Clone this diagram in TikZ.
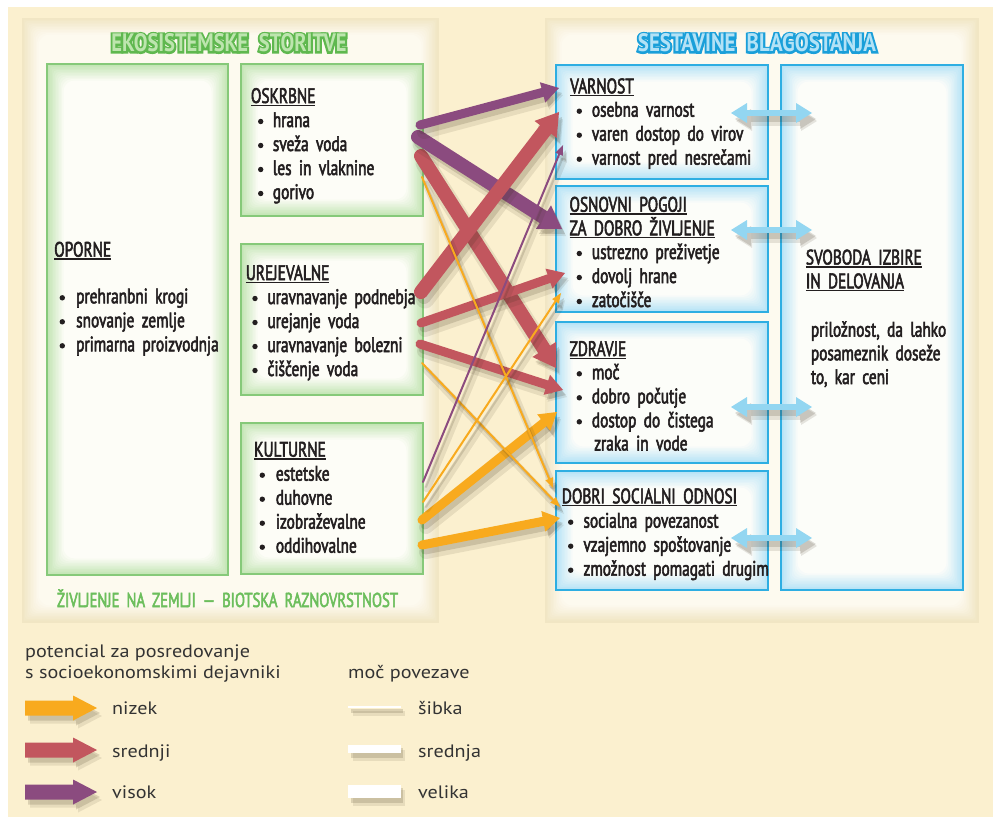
\documentclass[tikz,border=0pt]{standalone}
\usepackage{graphicx}
\usepackage{fontspec}
\setmainfont{PT Sans}
\newfontfamily\cond[FakeStretch=0.73,WordSpace=1.8,FakeBold=2.5]{PT Sans}
\newfontfamily\titlef[FakeStretch=0.75]{PT Sans Bold}
\newfontfamily\titleo[FakeStretch=0.75,FakeBold=15]{PT Sans Bold}
\newfontfamily\legf[FakeStretch=1.12]{PT Sans}
\usetikzlibrary{arrows.meta}
\definecolor{bgcream}{HTML}{FBF0CF}
\definecolor{panelin}{HTML}{FDFAF0}
\definecolor{paneledge}{HTML}{F1E6C4}
\definecolor{gborder}{HTML}{86C979}
\definecolor{gglow}{HTML}{C3E5B4}
\definecolor{ginner}{HTML}{FEFDF8}
\definecolor{bborder}{HTML}{2EAEE2}
\definecolor{bglow}{HTML}{B6E3F6}
\definecolor{binner}{HTML}{FDFDF9}
\definecolor{txt}{HTML}{231F20}
\definecolor{aorange}{HTML}{F8AA1E}
\definecolor{ared}{HTML}{C2565E}
\definecolor{apurple}{HTML}{8B4B7F}
\definecolor{ablue}{HTML}{93D6F1}
\definecolor{tgreenfill}{HTML}{BDE5AE}
\definecolor{tgreenline}{HTML}{5FB84F}
\definecolor{tbluefill}{HTML}{B3E2F6}
\definecolor{tblueline}{HTML}{1A9FD9}
\definecolor{footgreen}{HTML}{6CBE5C}
\definecolor{legtxt}{HTML}{333333}
\definecolor{shadowc}{HTML}{3A2E1A}

\newcommand\ul[1]{\setbox0\hbox{#1}\rlap{\rule[-3pt]{\wd0}{1.4pt}}\box0}

\newcommand\glowbox[8]{% x1 y1 x2 y2 glow inner border borderwidth
  \foreach \k in {0,...,11}{%
    \pgfmathtruncatemacro\pc{100-\k*9}%
    \pgfmathsetmacro\rc{\k*1.0}%
    \fill[#5!\pc!#6, rounded corners=\rc pt] ({#1+1.5*\k},{#2+1.5*\k}) rectangle ({#3-1.5*\k},{#4-1.5*\k});
  }%
  \draw[#7, line width=#8pt] (#1,#2) rectangle (#3,#4);}

\newcommand\otext[8]{% name x y w h fill line text
  \node[inner sep=0pt, text=#7] (#1-o) at (#2,#3) {\resizebox{#4pt}{#5pt}{\titleo #8}};
  \node[inner sep=0pt, text=#6] (#1) at (#2,#3) {\resizebox{#4pt}{#5pt}{\titlef #8}};}

\newcommand\items[5]{% name bulletx textx firstbaseline list
  \foreach \t [count=\i] in {#5}{%
    \node[itm] (#1\i) at (#3,{#4+24*(\i-1)}) {\t};
    \fill[txt] (#2,{#4+24*(\i-1)-5.5}) circle (2.7pt);
  }}

\newcommand\conn[4]{% style color from to
  \draw[#1, color=shadowc, opacity=0.10, line width=\pgflinewidth+5pt] ([shift={(4,7)}]#3) -- ([shift={(4,7)}]#4);
  \draw[#1, color=shadowc, opacity=0.16] ([shift={(3,5)}]#3) -- ([shift={(3,5)}]#4);
  \draw[#1, color=#2] (#3) -- (#4);}

\begin{document}
\begin{tikzpicture}[x=1pt,y=-1pt,
  itm/.style={anchor=base west, inner sep=0pt, text=txt, font=\cond\fontsize{21}{22}\selectfont},
  hd/.style={itm},
  leg/.style={anchor=base west, inner sep=0pt, text=legtxt, font=\legf\fontsize{18}{20}\selectfont},
  weak/.style={line width=2pt, line cap=round, -{Triangle[width=8pt,length=10pt,line width=0pt]}},
  medium/.style={line width=9pt, line cap=round, -{Triangle[width=21pt,length=17pt,line width=0pt]}},
  large/.style={line width=14pt, line cap=round, -{Triangle[width=28pt,length=22pt,line width=0pt]}},
  dbl/.style={line width=6pt, {Triangle[width=20pt,length=16pt,line width=0pt]}-{Triangle[width=20pt,length=16pt,line width=0pt]}},
]
\useasboundingbox (0,0) rectangle (993,817);
\fill[white] (0,0) rectangle (993,817);
\fill[bgcream] (8,7) rectangle (993,817);

% panels
\glowbox{22}{18}{438}{622}{paneledge}{panelin}{paneledge}{1}
\glowbox{545}{18}{978}{622}{paneledge}{panelin}{paneledge}{1}

% titles
\otext{tes}{229}{43}{235}{18}{tgreenfill}{tgreenline}{EKOSISTEMSKE\hspace{0.4em}STORITVE}
\otext{tsb}{757}{43}{238}{18}{tbluefill}{tblueline}{SESTAVINE\hspace{0.4em}BLAGOSTANJA}

% green boxes
\glowbox{47}{64}{228}{575}{gglow}{ginner}{gborder}{1.6}
\glowbox{241}{64}{423}{216}{gglow}{ginner}{gborder}{1.6}
\glowbox{241}{244}{423}{395}{gglow}{ginner}{gborder}{1.6}
\glowbox{241}{423}{423}{574}{gglow}{ginner}{gborder}{1.6}
% blue boxes
\glowbox{556}{65}{768}{179}{bglow}{binner}{bborder}{1.6}
\glowbox{556}{186}{768}{312}{bglow}{binner}{bborder}{1.6}
\glowbox{556}{322}{768}{463}{bglow}{binner}{bborder}{1.6}
\glowbox{556}{471}{768}{590}{bglow}{binner}{bborder}{1.6}
\glowbox{781}{65}{963}{590}{bglow}{binner}{bborder}{1.6}

% texts left
\node[hd] (hopo) at (54,256.7) {\ul{OPORNE}};
\items{opo}{62.3}{76}{303.3}{prehranbni krogi,snovanje zemlje,primarna proizvodnja}
\node[hd] (hosk) at (250.7,103) {\ul{OSKRBNE}};
\items{osk}{260.7}{272.7}{127}{hrana,sveža voda,les in vlaknine,gorivo}
\node[hd] (hure) at (245.7,280) {\ul{UREJEVALNE}};
\items{ure}{255}{267.3}{304}{uravnavanje podnebja,urejanje voda,uravnavanje bolezni,čiščenje voda}
\node[hd] (hkul) at (254,456.7) {\ul{KULTURNE}};
\items{kul}{262.3}{275.7}{480.7}{estetske,duhovne,izobraževalne,oddihovalne}
\node[anchor=base, inner sep=0pt, text=footgreen] (foot) at (227.5,607) {\resizebox{341pt}{!}{\cond ŽIVLJENJE NA ZEMLJI — BIOTSKA RAZNOVRSTNOST}};

% texts right
\node[hd] (hvar) at (570,93.3) {\ul{VARNOST}};
\items{var}{579.3}{591.7}{116.7}{osebna varnost,varen dostop do virov,varnost pred nesrečami}
\node[hd] (hosn1) at (569.3,211.7) {\ul{OSNOVNI POGOJI}};
\node[hd] (hosn2) at (569.3,235.3) {\ul{ZA DOBRO ŽIVLJENJE}};
\items{osn}{579.3}{591.7}{259}{ustrezno preživetje,dovolj hrane,zatočišče}
\node[hd] (hzdr) at (569.3,356) {\ul{ZDRAVJE}};
\items{zdr}{579.3}{591.7}{379.3}{moč,dobro počutje,dostop do čistega}
\node[itm] (zdr4) at (594,450.5) {zraka in vode};
\node[hd] (hdob) at (561.7,503.3) {\ul{DOBRI SOCIALNI ODNOSI}};
\items{dob}{570.7}{583.3}{527.7}{socialna povezanost,vzajemno spoštovanje,zmožnost pomagati drugim}
\node[hd] (hsv1) at (805.7,264.5) {\ul{SVOBODA IZBIRE}};
\node[hd] (hsv2) at (805.7,288.3) {\ul{IN DELOVANJA}};
\node[itm] (sv1) at (810.7,336.7) {priložnost, da lahko};
\node[itm] (sv2) at (810.7,360.3) {posameznik doseže};
\node[itm] (sv3) at (810.7,384) {to, kar ceni};

% connector end points
\coordinate (s1) at (420,125);  \coordinate (e1) at (559,88);
\coordinate (s2) at (418,137);  \coordinate (e2) at (562,229);
\coordinate (s3) at (421,156);  \coordinate (e3) at (556,368);
\coordinate (s4) at (422,177);  \coordinate (e4) at (553,488);
\coordinate (s5) at (421,292);  \coordinate (e5) at (559,112);
\coordinate (s6) at (421,323);  \coordinate (e6) at (565,273);
\coordinate (s7) at (420,344);  \coordinate (e7) at (563,390);
\coordinate (s8) at (422,363);  \coordinate (e8) at (560,507);
\coordinate (s9) at (423,482);  \coordinate (e9) at (563,145);
\coordinate (s10) at (423,502); \coordinate (e10) at (561,293);
\coordinate (s11) at (422,520); \coordinate (e11) at (557,412);
\coordinate (s12) at (422,545); \coordinate (e12) at (560,518);

\conn{large}{ared}{s3}{e3}
\conn{large}{apurple}{s2}{e2}
\conn{large}{ared}{s5}{e5}
\conn{medium}{ared}{s6}{e6}
\conn{medium}{ared}{s7}{e7}
\conn{medium}{apurple}{s1}{e1}
\conn{medium}{aorange}{s11}{e11}
\conn{medium}{aorange}{s12}{e12}
\conn{weak}{aorange}{s4}{e4}
\conn{weak}{aorange}{s8}{e8}
\conn{weak}{apurple}{s9}{e9}
\conn{weak}{aorange}{s10}{e10}

% double arrows
\foreach \n/\yy in {1/113,2/230,3/407,4/538}{
  \coordinate (dl\n) at (731,\yy);
  \coordinate (dr\n) at (812,\yy);
  \draw[dbl, color=shadowc, opacity=0.12, line width=10pt] ([shift={(5,8)}]dl\n) -- ([shift={(5,8)}]dr\n);
  \draw[dbl, color=shadowc, opacity=0.16] ([shift={(4,6)}]dl\n) -- ([shift={(4,6)}]dr\n);
  \draw[dbl, color=ablue] (dl\n) -- (dr\n);
}

% legend
\node[leg] (lg1) at (25,657) {potencial za posredovanje};
\node[leg] (lg2) at (25,678) {s socioekonomskimi dejavniki};
\node[leg] (lg3) at (348,678) {moč povezave};
\foreach \c/\yy in {aorange/708,ared/750,apurple/792}{
  \foreach \dx/\dy/\op in {5/8/0.10,3/5/0.16}{
    \fill[shadowc, opacity=\op] ({25+\dx},{\yy-7.5+\dy}) -- ({73+\dx},{\yy-7.5+\dy}) -- ({73+\dx},{\yy-12.5+\dy}) -- ({97+\dx},{\yy+\dy}) -- ({73+\dx},{\yy+12.5+\dy}) -- ({73+\dx},{\yy+7.5+\dy}) -- ({25+\dx},{\yy+7.5+\dy}) -- cycle;
  }
  \fill[\c] (25,{\yy-7.5}) -- (73,{\yy-7.5}) -- (73,{\yy-12.5}) -- (97,\yy) -- (73,{\yy+12.5}) -- (73,{\yy+7.5}) -- (25,{\yy+7.5}) -- cycle;
}
\node[leg] (lnz) at (112,714) {nizek};
\node[leg] (lsr) at (112,757) {srednji};
\node[leg] (lvi) at (112,798) {visok};
\foreach \ya/\yb in {706/708,745/753,785/798}{
  \fill[shadowc, opacity=0.10] (353,{\ya+5}) rectangle (405,{\yb+8});
  \fill[shadowc, opacity=0.16] (351,{\ya+3}) rectangle (403,{\yb+5});
  \fill[white] (348,\ya) rectangle (401,\yb);
}
\node[leg] (lsb) at (418,714) {šibka};
\node[leg] (lsn) at (418,757) {srednja};
\node[leg] (lvl) at (418,798) {velika};
\end{tikzpicture}
\end{document}
